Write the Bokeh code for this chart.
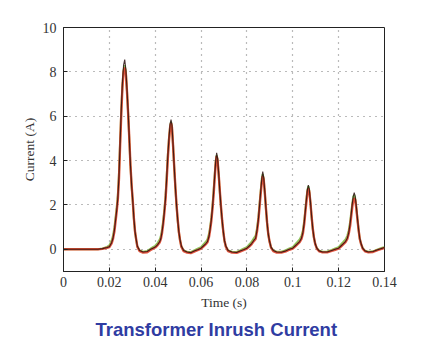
from bokeh.plotting import figure
from bokeh.models import FixedTicker, PrintfTickFormatter, Title, Range1d
from bokeh.embed import file_html
from bokeh.resources import INLINE

# Time samples (s)
time_s = [
    0.0, 0.005, 0.010, 0.015, 0.017, 0.019,
    0.020, 0.021, 0.0216, 0.0222, 0.0227, 0.0232, 0.0237, 0.0242, 0.0247, 0.0252, 0.0257, 0.0262, 0.0267, 0.0272, 0.0277, 0.0282, 0.0287, 0.0292, 0.0297, 0.0302, 0.0307, 0.0312, 0.0317, 0.0322, 0.0332, 0.0347,
    0.0365, 0.038, 0.039,
    0.040, 0.041, 0.042, 0.0425, 0.043, 0.0435, 0.044, 0.0445, 0.045, 0.0455, 0.046, 0.0465, 0.0469, 0.0473, 0.0478, 0.0483, 0.0488, 0.0493, 0.0498, 0.0503, 0.0508, 0.0514, 0.0524, 0.0539,
    0.0555, 0.057, 0.0585,
    0.060, 0.061, 0.062, 0.0628, 0.0635, 0.064, 0.0645, 0.065, 0.0655, 0.066, 0.0664, 0.0668, 0.0672, 0.0677, 0.0682, 0.0687, 0.0692, 0.0697, 0.0702, 0.0708, 0.0718, 0.0735,
    0.0755, 0.077, 0.0785,
    0.080, 0.081, 0.082, 0.083, 0.0838, 0.0844, 0.085, 0.0855, 0.086, 0.0865, 0.0869, 0.0873, 0.0878, 0.0883, 0.0888, 0.0893, 0.0898, 0.0905, 0.0915, 0.093,
    0.095, 0.097, 0.0985,
    0.100, 0.101, 0.102, 0.103, 0.1038, 0.1044, 0.105, 0.1055, 0.106, 0.1064, 0.1068, 0.1072, 0.1077, 0.1082, 0.1087, 0.1092, 0.1098, 0.1105, 0.1115, 0.113,
    0.115, 0.117, 0.1185,
    0.120, 0.121, 0.122, 0.123, 0.1238, 0.1244, 0.125, 0.1255, 0.126, 0.1264, 0.1268, 0.1272, 0.1277, 0.1282, 0.1287, 0.1292, 0.1298, 0.1305, 0.1315, 0.133, 0.135, 0.137, 0.139, 0.140,
]

# Measured current (black)
current_measured = [
    0.0, 0.0, 0.0, 0.0, 0.03, 0.08,
    0.12, 0.3, 0.5, 0.85, 1.3, 1.75, 2.3, 3.3, 4.8, 6.3, 7.5, 8.3, 8.55, 8.1, 7.2, 6.2, 5.0, 3.8, 2.9, 2.2, 1.4, 0.8, 0.45, 0.15, -0.05, -0.12,
    -0.1, 0.0, 0.05,
    0.1, 0.2, 0.35, 0.5, 0.8, 1.2, 1.7, 2.3, 3.2, 4.2, 5.0, 5.65, 5.85, 5.6, 4.7, 3.7, 2.8, 2.0, 1.35, 0.8, 0.45, 0.15, -0.05, -0.12,
    -0.15, -0.08, -0.02,
    0.05, 0.15, 0.25, 0.35, 0.6, 0.95, 1.35, 1.9, 2.6, 3.4, 4.0, 4.35, 4.1, 3.4, 2.6, 1.9, 1.3, 0.8, 0.4, 0.15, -0.05, -0.12,
    -0.14, -0.08, -0.02,
    0.05, 0.15, 0.25, 0.4, 0.5, 0.85, 1.35, 1.95, 2.6, 3.2, 3.5, 3.25, 2.6, 1.85, 1.2, 0.7, 0.4, 0.1, -0.05, -0.12,
    -0.13, -0.07, 0.0,
    0.05, 0.15, 0.25, 0.35, 0.5, 0.75, 1.2, 1.75, 2.3, 2.7, 2.9, 2.7, 2.15, 1.5, 0.95, 0.55, 0.25, 0.05, -0.07, -0.12,
    -0.12, -0.05, 0.0,
    0.05, 0.15, 0.25, 0.35, 0.5, 0.75, 1.15, 1.6, 2.1, 2.4, 2.55, 2.4, 1.95, 1.4, 0.9, 0.5, 0.25, 0.05, -0.07, -0.12, -0.1, -0.02, 0.05, 0.08,
]

# Simulated current (red)
current_model_a = [
    0.0, 0.0, 0.0, 0.0, 0.02, 0.07,
    0.1, 0.27, 0.47, 0.8, 1.25, 1.7, 2.25, 3.2, 4.7, 6.1, 7.3, 8.0, 8.2, 7.9, 7.1, 6.1, 5.0, 3.8, 2.9, 2.2, 1.4, 0.8, 0.45, 0.12, -0.08, -0.15,
    -0.13, -0.03, 0.03,
    0.08, 0.18, 0.32, 0.47, 0.75, 1.15, 1.65, 2.25, 3.1, 4.1, 4.9, 5.5, 5.7, 5.5, 4.65, 3.7, 2.8, 2.0, 1.35, 0.8, 0.43, 0.12, -0.08, -0.15,
    -0.17, -0.1, -0.04,
    0.03, 0.12, 0.22, 0.32, 0.57, 0.9, 1.3, 1.85, 2.5, 3.3, 3.9, 4.2, 4.0, 3.35, 2.6, 1.9, 1.3, 0.8, 0.4, 0.12, -0.08, -0.15,
    -0.16, -0.1, -0.04,
    0.03, 0.12, 0.22, 0.37, 0.47, 0.8, 1.3, 1.9, 2.5, 3.05, 3.3, 3.15, 2.55, 1.85, 1.2, 0.7, 0.38, 0.08, -0.08, -0.15,
    -0.15, -0.09, -0.02,
    0.03, 0.12, 0.22, 0.32, 0.47, 0.7, 1.15, 1.7, 2.2, 2.6, 2.75, 2.6, 2.1, 1.5, 0.95, 0.55, 0.23, 0.03, -0.09, -0.14,
    -0.14, -0.07, -0.02,
    0.03, 0.12, 0.22, 0.32, 0.47, 0.7, 1.05, 1.5, 1.95, 2.2, 2.3, 2.25, 1.85, 1.35, 0.88, 0.48, 0.23, 0.03, -0.09, -0.14, -0.12, -0.04, 0.03, 0.06,
]

# Simulated current (green)
current_model_b = [
    0.0, 0.0, 0.0, 0.0, 0.04, 0.11,
    0.18, 0.4, 0.62, 1.0, 1.45, 1.9, 2.45, 3.45, 4.9, 6.3, 7.4, 8.1, 8.3, 8.0, 7.1, 6.1, 4.95, 3.75, 2.85, 2.15, 1.35, 0.78, 0.42, 0.13, -0.05, -0.11,
    -0.08, 0.03, 0.1,
    0.16, 0.28, 0.45, 0.62, 0.92, 1.32, 1.82, 2.42, 3.3, 4.25, 5.0, 5.55, 5.75, 5.5, 4.65, 3.65, 2.75, 1.95, 1.3, 0.78, 0.43, 0.13, -0.05, -0.11,
    -0.13, -0.05, 0.03,
    0.1, 0.22, 0.33, 0.45, 0.72, 1.05, 1.45, 2.0, 2.7, 3.45, 4.0, 4.25, 4.05, 3.35, 2.55, 1.85, 1.25, 0.78, 0.38, 0.13, -0.05, -0.11,
    -0.12, -0.05, 0.03,
    0.1, 0.22, 0.33, 0.5, 0.62, 0.95, 1.45, 2.05, 2.65, 3.2, 3.4, 3.2, 2.55, 1.8, 1.15, 0.68, 0.38, 0.09, -0.05, -0.11,
    -0.11, -0.04, 0.04,
    0.1, 0.22, 0.33, 0.45, 0.62, 0.85, 1.3, 1.82, 2.35, 2.7, 2.85, 2.65, 2.1, 1.45, 0.92, 0.53, 0.24, 0.05, -0.06, -0.11,
    -0.1, -0.03, 0.04,
    0.1, 0.22, 0.33, 0.45, 0.62, 0.85, 1.25, 1.68, 2.12, 2.38, 2.45, 2.32, 1.9, 1.37, 0.88, 0.48, 0.24, 0.05, -0.06, -0.11, -0.09, -0.01, 0.07, 0.1,
]

x_ticks = [0, 0.02, 0.04, 0.06, 0.08, 0.1, 0.12, 0.14]
y_ticks = [0, 2, 4, 6, 8, 10]
x_range = (0, 0.14)
y_range = (-1, 10)

p = figure(
    width=426, height=357,
    output_backend="svg", toolbar_location=None,
    x_range=Range1d(*x_range), y_range=Range1d(*y_range),
    min_border_left=63, min_border_right=42, min_border_top=27, min_border_bottom=86,
    background_fill_color="white", border_fill_color="white",
)
p.outline_line_color = "#222222"
p.outline_line_width = 1

p.line(time_s, current_model_b, line_color="#7bbf4a", line_width=2.0, line_alpha=0.9)
p.line(time_s, current_model_a, line_color="#e0442c", line_width=2.4, line_alpha=0.9)
p.line(time_s, current_measured, line_color="#2a1010", line_width=1.1, line_alpha=0.85)

xax = p.xaxis[0]
yax = p.yaxis[0]
for ax in (xax, yax):
    ax.major_label_text_font = "Liberation Serif"
    ax.major_label_text_font_size = "14px"
    ax.major_label_text_color = "#333333"
    ax.axis_label_text_font = "Liberation Serif"
    ax.axis_label_text_font_size = "13.5px"
    ax.axis_label_text_font_style = "normal"
    ax.axis_label_text_color = "#333333"
    ax.axis_line_color = "#222222"
    ax.major_tick_in = 4
    ax.major_tick_out = 0
    ax.minor_tick_line_color = None
    ax.major_tick_line_color = "#222222"

xax.ticker = FixedTicker(ticks=x_ticks)
yax.ticker = FixedTicker(ticks=y_ticks)
xax.formatter = PrintfTickFormatter(format="%g")
yax.formatter = PrintfTickFormatter(format="%g")
xax.axis_label = "Time (s)"
yax.axis_label = "Current (A)"
xax.major_label_standoff = 5
yax.major_label_standoff = 7
xax.axis_label_standoff = 5
yax.axis_label_standoff = 3

p.xgrid.ticker = FixedTicker(ticks=x_ticks)
p.ygrid.ticker = FixedTicker(ticks=y_ticks)
for g in (p.xgrid[0], p.ygrid[0]):
    g.grid_line_color = "#777777"
    g.grid_line_dash = "1 5"
    g.grid_line_width = 1.2

t = Title(text="Transformer Inrush Current", align="left",
          text_font="Liberation Sans", text_font_size="18.5px",
          text_font_style="bold", text_color="#2f3ca2", standoff=9, offset=32)
p.add_layout(t, "below")

open("out.html", "w").write(file_html(p, INLINE))
